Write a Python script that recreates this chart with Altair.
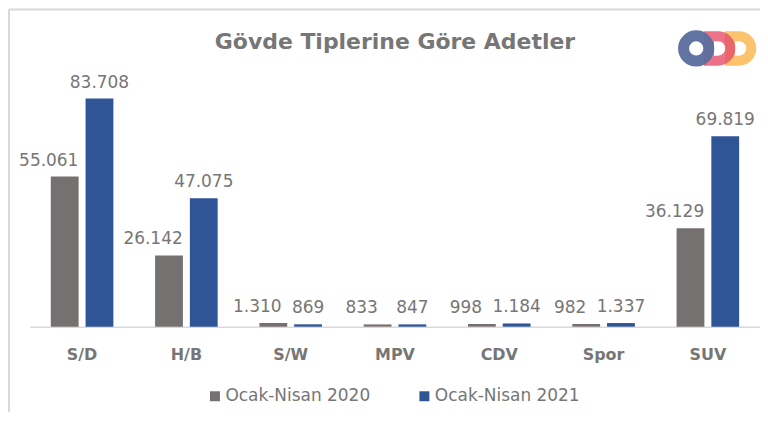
import altair as alt
import pandas as pd

categories = ["S/D", "H/B", "S/W", "MPV", "CDV", "Spor", "SUV"]
series = ["Ocak-Nisan 2020", "Ocak-Nisan 2021"]
values_2020 = [55061, 26142, 1310, 833, 998, 982, 36129]
values_2021 = [83708, 47075, 869, 847, 1184, 1337, 69819]
colors = ["#767171", "#2F5597"]
title_text = "Gövde Tiplerine Göre Adetler"


def fmt(v):
    return f"{v:,}".replace(",", ".")


rows = []
for c, a, b in zip(categories, values_2020, values_2021):
    rows.append({"cat": c, "series": series[0], "value": a, "label": fmt(a)})
    rows.append({"cat": c, "series": series[1], "value": b, "label": fmt(b)})
df = pd.DataFrame(rows)

FONT = "DejaVu Sans"
GRAY = "#767676"

x_enc = alt.X("cat:N", sort=categories,
              scale=alt.Scale(paddingInner=0.4, paddingOuter=0.2),
              axis=alt.Axis(title=None, labelAngle=0, ticks=False,
                            domainColor="#D9D9D9", domainWidth=1.5,
                            labelFont=FONT, labelFontSize=16, labelFontWeight="bold",
                            labelColor=GRAY, labelPadding=20))
xo_enc = alt.XOffset("series:N", sort=series,
                     scale=alt.Scale(paddingInner=0.2, paddingOuter=0))
y_enc = alt.Y("value:Q", scale=alt.Scale(domain=[0, 90000], nice=False),
              axis=None)

base = alt.Chart(df)

bars = base.mark_bar().encode(
    x=x_enc, xOffset=xo_enc, y=y_enc,
    color=alt.Color("series:N", sort=series,
                    scale=alt.Scale(domain=series, range=colors),
                    legend=alt.Legend(title=None, orient="none", direction="horizontal",
                                      legendX=177, legendY=307, symbolType="square",
                                      symbolSize=100, symbolStrokeWidth=0,
                                      labelFont=FONT, labelFontSize=17,
                                      labelColor=GRAY, labelOffset=2,
                                      columnPadding=45, padding=0)),
)

label_style = dict(baseline="alphabetic", dy=-11, font=FONT, fontSize=17, color=GRAY)
labels_2020 = base.transform_filter(alt.datum.series == series[0]).mark_text(
    dx=-16, **label_style).encode(x=x_enc, xOffset=xo_enc, y=y_enc, text="label:N")
labels_2021 = base.transform_filter(alt.datum.series == series[1]).mark_text(
    dx=0, **label_style).encode(x=x_enc, xOffset=xo_enc, y=y_enc, text="label:N")

title = alt.Chart(pd.DataFrame({"t": [title_text]})).mark_text(
    font=FONT, fontSize=22, fontWeight="bold", color=GRAY, baseline="middle", align="center"
).encode(x=alt.value(366), y=alt.value(-39), text="t:N")

# decorative frame (top and left)
frame_top = alt.Chart(pd.DataFrame({"a": [0]})).mark_rule(color="#D9D9D9", strokeWidth=2).encode(
    x=alt.value(-21), x2=alt.value(740), y=alt.value(-72))
frame_left = alt.Chart(pd.DataFrame({"a": [0]})).mark_rule(color="#D9D9D9", strokeWidth=2).encode(
    x=alt.value(-21), y=alt.value(-72), y2=alt.value(340))

# decorative logo
D_PATH = "M -0.75 -1 L 0 -1 A 1 1 0 0 1 0 1 L -0.75 1 Z"
logo_o = alt.Chart(pd.DataFrame({"a": [0]})).mark_point(
    shape="circle", filled=False, stroke="#5A6E9E", strokeWidth=11, size=640, opacity=0.95
).encode(x=alt.value(668), y=alt.value(-33))
logo_d1 = alt.Chart(pd.DataFrame({"a": [0]})).mark_point(
    shape=D_PATH, filled=False, stroke="#E8506A", strokeWidth=10, size=600, opacity=0.8
).encode(x=alt.value(690), y=alt.value(-33))
logo_d2 = alt.Chart(pd.DataFrame({"a": [0]})).mark_point(
    shape=D_PATH, filled=False, stroke="#FBB954", strokeWidth=10, size=600, opacity=0.85
).encode(x=alt.value(711), y=alt.value(-33))

chart = alt.layer(frame_top, frame_left, bars, labels_2020, labels_2021, title,
                  logo_d2, logo_d1, logo_o).properties(
    width=732, height=246,
    autosize=alt.AutoSizeParams(type="none"),
    padding={"left": 22, "top": 73, "right": 0, "bottom": 85},
).configure_view(stroke=None)

chart.save("out.html", embed_options={"renderer": "svg", "actions": False})
